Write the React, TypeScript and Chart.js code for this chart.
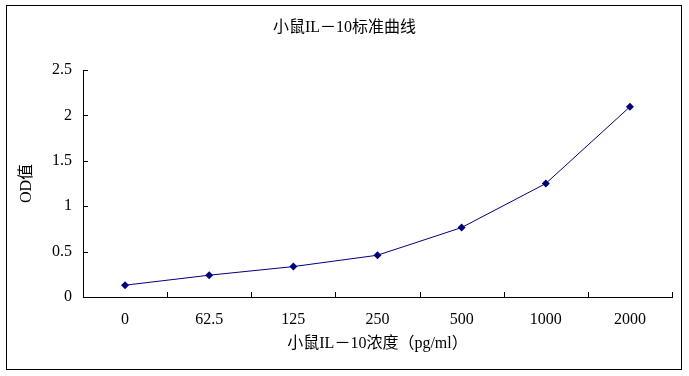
import React, { useEffect, useRef } from "react";
import { Chart, registerables } from "chart.js";

Chart.register(...registerables);

const categories = ["0", "62.5", "125", "250", "500", "1000", "2000"];
const odValues = [0.13, 0.24, 0.335, 0.46, 0.765, 1.25, 2.095];
const yTickValues = [0, 0.5, 1, 1.5, 2, 2.5];
const yTickLabels = ["0", "0.5", "1", "1.5", "2", "2.5"];
const titleText = "小鼠IL－10标准曲线";
const xTitleText = "小鼠IL－10浓度（pg/ml）";
const yTitleText = "OD值";

const FONT = '"Liberation Serif", "Noto Sans CJK SC", serif';

const frameAndTicks = {
  id: "frameAndTicks",
  afterLayout(chart: any) {
    const tb = chart.titleBlock;
    if (tb) {
      tb.left = 0;
      tb.right = chart.width;
      tb.width = chart.width;
    }
  },
  afterDraw(chart: any) {
    const ctx = chart.ctx;
    const xs = chart.scales.x;
    const ys = chart.scales.y;
    const area = chart.chartArea;
    ctx.save();
    ctx.strokeStyle = "#000";
    ctx.lineWidth = 1;
    ctx.beginPath();
    for (const v of yTickValues) {
      if (v === 0) continue;
      const py = Math.round(ys.getPixelForValue(v)) + 0.5;
      ctx.moveTo(area.left, py);
      ctx.lineTo(area.left + 5, py);
    }
    const n = categories.length;
    for (let i = 1; i <= n; i++) {
      const a = xs.getPixelForValue(i - 1);
      const b = i < n ? xs.getPixelForValue(i) : 2 * a - xs.getPixelForValue(i - 2);
      const px = Math.round((a + b) / 2) + 0.5;
      ctx.moveTo(px, area.bottom);
      ctx.lineTo(px, area.bottom - 5);
    }
    ctx.stroke();
    ctx.strokeRect(6.5, 5.5, 675, 364);
    ctx.restore();
  },
};

export default function App() {
  const ref = useRef<HTMLCanvasElement | null>(null);
  useEffect(() => {
    if (!ref.current) return;
    const chart = new Chart(ref.current, {
      type: "line",
      data: {
        labels: categories,
        datasets: [
          {
            data: odValues,
            borderColor: "#000080",
            backgroundColor: "#000080",
            borderWidth: 1,
            pointStyle: "rectRot",
            pointRadius: 4,
            pointBorderWidth: 0,
            pointBackgroundColor: "#000080",
            tension: 0,
            fill: false,
          },
        ],
      },
      options: {
        responsive: false,
        animation: false,
        devicePixelRatio: 1,
        layout: { padding: { left: 0, right: 17, top: 0, bottom: 0 } },
        plugins: {
          legend: { display: false },
          tooltip: { enabled: false },
          title: {
            display: true,
            text: titleText,
            color: "#000",
            font: { family: FONT, size: 16, weight: "normal" },
            padding: { top: 18.4, bottom: 32.4 },
          },
        },
        scales: {
          x: {
            type: "category",
            offset: true,
            grid: { display: false, drawTicks: false },
            border: { display: true, color: "#000", width: 1 },
            ticks: {
              color: "#000",
              font: { family: FONT, size: 16 },
              padding: 13.4,
              maxRotation: 0,
              autoSkip: false,
            },
            title: {
              display: true,
              text: xTitleText,
              color: "#000",
              font: { family: FONT, size: 16 },
              padding: { top: 0, bottom: 22.4 },
            },
            afterFit(scale: any) {
              scale.height = 79;
            },
          },
          y: {
            min: 0,
            max: 2.5,
            afterBuildTicks(scale: any) {
              scale.ticks = yTickValues.map((v) => ({ value: v }));
            },
            grid: { display: false, drawTicks: false },
            border: { display: true, color: "#000", width: 1 },
            ticks: {
              color: "#000",
              font: { family: FONT, size: 16 },
              padding: 11,
              callback: (v: any) => {
                const i = yTickValues.indexOf(Number(v));
                return i >= 0 ? yTickLabels[i] : "";
              },
            },
            title: {
              display: true,
              text: yTitleText,
              color: "#000",
              font: { family: FONT, size: 16 },
              padding: { top: 17.5, bottom: 0 },
            },
            afterFit(scale: any) {
              scale.width = 83;
            },
          },
        },
      },
      plugins: [frameAndTicks],
    });
    return () => chart.destroy();
  }, []);
  return (
    <div style={{ position: "absolute", left: 0, top: 0, width: 689, height: 376, background: "#fff" }}>
      <canvas ref={ref} width={689} height={376} style={{ display: "block" }} />
    </div>
  );
}
